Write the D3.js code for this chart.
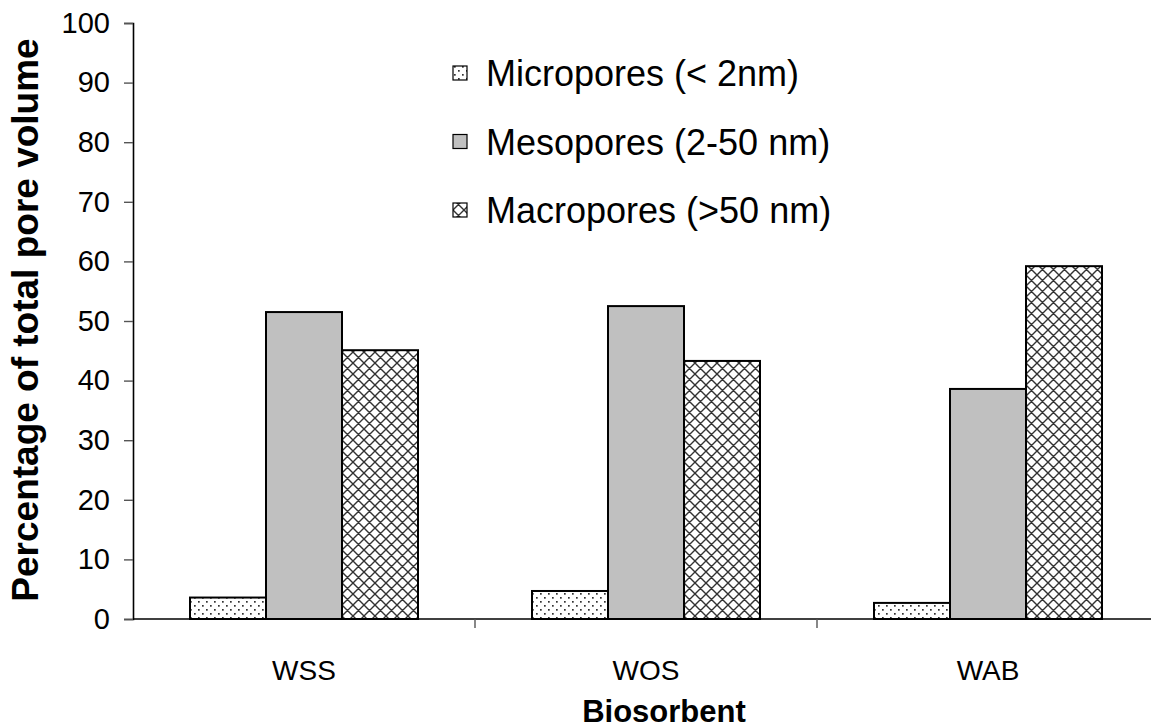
<!DOCTYPE html>
<html>
<head>
<meta charset="utf-8">
<script src="https://cdn.jsdelivr.net/npm/d3@7"></script>
<style>
  html, body { margin: 0; padding: 0; background: #fff; }
  svg { display: block; font-family: Arial, "Liberation Sans", sans-serif; }
</style>
</head>
<body>
<svg id="chart" width="1151" height="728"></svg>
<script>
// Pore size distribution of three biosorbents
const categories = ["WSS", "WOS", "WAB"];
const seriesNames = ["Micropores (< 2nm)", "Mesopores (2-50 nm)", "Macropores (>50 nm)"];
const micropores = [3.6, 4.7, 2.7];
const mesopores = [51.5, 52.5, 38.6];
const macropores = [45.1, 43.3, 59.2];
const yTicks = [0, 10, 20, 30, 40, 50, 60, 70, 80, 90, 100];

const seriesValues = [micropores, mesopores, macropores];

const svg = d3.select("#chart");
const plotLeft = 133, plotRight = 1159, plotTop = 23, plotBottom = 619;
const FONT = "Arial, 'Liberation Sans', sans-serif";

// Fill patterns
const defs = svg.append("defs");
const dots = defs.append("pattern").attr("id", "dots")
  .attr("patternUnits", "userSpaceOnUse").attr("width", 8).attr("height", 8);
dots.append("rect").attr("width", 8).attr("height", 8).attr("fill", "#fff");
dots.append("rect").attr("x", 1).attr("y", 1).attr("width", 1.7).attr("height", 1.7).attr("fill", "#333");
dots.append("rect").attr("x", 5).attr("y", 5).attr("width", 1.7).attr("height", 1.7).attr("fill", "#333");

const hatch = defs.append("pattern").attr("id", "hatch")
  .attr("patternUnits", "userSpaceOnUse").attr("width", 11).attr("height", 11);
hatch.append("rect").attr("width", 11).attr("height", 11).attr("fill", "#fff");
hatch.append("path").attr("d", "M0,0 L11,11 M11,0 L0,11 M-5.5,5.5 L5.5,16.5 M5.5,-5.5 L16.5,5.5 M-5.5,5.5 L5.5,-5.5 M5.5,16.5 L16.5,5.5")
  .attr("stroke", "#333").attr("stroke-width", 1.4).attr("fill", "none");

const fills = ["url(#dots)", "#c0c0c0", "url(#hatch)"];

const x = d3.scaleBand().domain(categories).range([plotLeft, plotRight]).paddingInner(0).paddingOuter(0);
const inner = d3.scaleBand().domain(d3.range(3)).range([0, x.bandwidth()])
  .paddingInner(0).paddingOuter(0.75);
const y = d3.scaleLinear().domain([0, 100]).range([plotBottom, plotTop]);

// Bars
const groups = svg.append("g").selectAll("g").data(categories).join("g")
  .attr("transform", d => `translate(${x(d)},0)`);
groups.selectAll("rect")
  .data((c, ci) => seriesValues.map((vals, si) => ({ si, v: vals[ci] })))
  .join("rect")
  .attr("x", d => inner(d.si))
  .attr("width", inner.bandwidth())
  .attr("y", d => y(d.v))
  .attr("height", d => y(0) - y(d.v))
  .attr("fill", d => fills[d.si])
  .attr("stroke", "#000")
  .attr("stroke-width", 2);

// Y axis
const yAxis = svg.append("g").attr("transform", `translate(${plotLeft},0)`)
  .call(d3.axisLeft(y).tickValues(yTicks).tickSize(9).tickPadding(14));
yAxis.select(".domain").attr("stroke", "#000").attr("stroke-width", 1.6);
yAxis.selectAll(".tick line").attr("stroke", "#555").attr("stroke-width", 1.4);
yAxis.selectAll(".tick text").attr("font-size", 29).attr("fill", "#000")
  .attr("font-family", FONT);

// X axis: line at zero with ticks on category boundaries
const xAxis = svg.append("g").attr("transform", `translate(0,${plotBottom})`);
xAxis.append("line").attr("x1", plotLeft).attr("x2", plotRight).attr("stroke", "#000").attr("stroke-width", 1.6);
xAxis.selectAll("line.tk").data(categories).join("line").attr("class", "tk")
  .attr("x1", d => x(d) + x.bandwidth()).attr("x2", d => x(d) + x.bandwidth())
  .attr("y1", 0).attr("y2", 9).attr("stroke", "#555").attr("stroke-width", 1.4);
xAxis.selectAll("text").data(categories).join("text")
  .attr("x", d => x(d) + x.bandwidth() / 2).attr("y", 61)
  .attr("text-anchor", "middle").attr("font-size", 28).text(d => d);

// Axis titles
svg.append("text").attr("x", 664).attr("y", 722).attr("text-anchor", "middle")
  .attr("font-size", 31).attr("font-weight", "bold").text("Biosorbent");
svg.append("text").attr("transform", "translate(38,320) rotate(-90)").attr("text-anchor", "middle")
  .attr("font-size", 37).attr("font-weight", "bold").text("Percentage of total pore volume");

// Legend
const legend = svg.append("g").selectAll("g").data(seriesNames).join("g")
  .attr("transform", (d, i) => `translate(453,${73 + i * 68.5})`);
legend.append("rect").attr("x", 0).attr("y", -7).attr("width", 14).attr("height", 14)
  .attr("fill", (d, i) => fills[i]).attr("stroke", "#000").attr("stroke-width", 1.2);
legend.append("text").attr("x", 33).attr("y", 13).attr("font-size", 36).text(d => d);
</script>
</body>
</html>
